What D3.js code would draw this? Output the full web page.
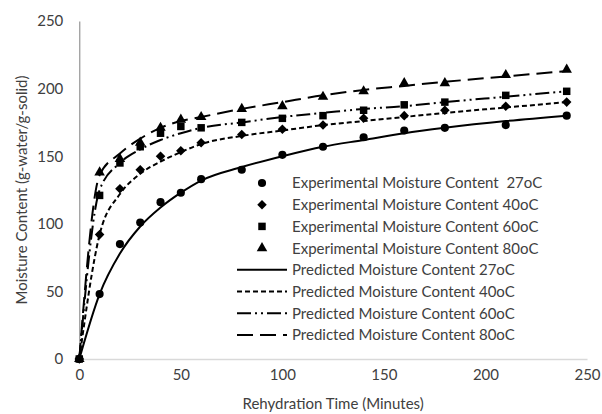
<!DOCTYPE html>
<html>
<head>
<meta charset="utf-8">
<script src="https://cdn.jsdelivr.net/npm/d3@7"></script>
<style>
  body { margin: 0; background: #fff; }
  svg { display: block; font-family: Lato, "Open Sans", sans-serif; }
  text { white-space: pre; }
</style>
</head>
<body>
<svg id="chart" width="602" height="414"></svg>
<script>
// rehydration time (minutes)
const times = [0, 10, 20, 30, 40, 50, 60, 80, 100, 120, 140, 160, 180, 210, 240];

// experimental moisture content (g-water/g-solid)
const exp27 = [0, 48, 85, 101, 116, 123, 133, 140, 151, 157, 164, 169, 171, 173, 180];
const exp40 = [0, 92, 126, 140, 150, 154, 160, 166, 170, 173, 178, 180, 184, 187, 190];
const exp60 = [0, 121, 145, 157, 167, 172, 171, 175, 178, 180, 184, 188, 190, 195, 198];
const exp80 = [0, 138, 148, 160, 171, 177, 179, 185, 187, 194, 198, 204, 204, 210, 214];

// predicted moisture content
const pred27 = [0, 48, 78, 98, 112, 123, 132, 142, 150, 157, 162, 167, 171, 176, 180];
const pred40 = [0, 92, 122, 137, 146, 153, 159, 165, 169, 173, 176, 179, 182, 186, 190];
const pred60 = [0, 125, 145, 155, 162, 167, 171, 175, 179, 182, 185, 187, 190, 194, 198];
const pred80 = [0, 136, 152, 163, 171, 176, 179, 185, 190, 195, 199, 202, 205, 209, 213];

const xTicks = [0, 50, 100, 150, 200, 250];
const yTicks = [0, 50, 100, 150, 200, 250];

const svg = d3.select("#chart");
const textColor = "#404040";
const fontSize = "15px";

const x = d3.scaleLinear().domain([0, 250]).range([79.3, 587]);
const y = d3.scaleLinear().domain([0, 250]).range([359, 21]);

// axes
const xAxis = svg.append("g")
  .attr("transform", `translate(0,${y(0)})`)
  .call(d3.axisBottom(x).tickValues(xTicks).tickSize(0).tickPadding(10));
xAxis.select(".domain").attr("stroke", "#d9d9d9").attr("stroke-width", 1.5);

const yAxis = svg.append("g")
  .attr("transform", `translate(${x(0)},0)`)
  .call(d3.axisLeft(y).tickValues(yTicks).tickSize(0).tickPadding(16));
yAxis.select(".domain").attr("stroke", "#7f7f7f").attr("stroke-width", 1);

svg.selectAll(".tick text")
  .attr("fill", textColor)
  .style("font-size", fontSize)
  .style("font-family", "Lato, sans-serif");

svg.append("text")
  .attr("x", (x.range()[0] + x.range()[1]) / 2)
  .attr("y", 409)
  .attr("text-anchor", "middle")
  .attr("fill", textColor)
  .style("font-size", fontSize)
  .text("Rehydration Time (Minutes)");

svg.append("text")
  .attr("transform", `translate(27,${(y.range()[0] + y.range()[1]) / 2}) rotate(-90)`)
  .attr("text-anchor", "middle")
  .attr("fill", textColor)
  .style("font-size", fontSize)
  .text("Moisture Content (g-water/g-solid)");

// series definitions
const predicted = [
  { name: "Predicted Moisture Content 27oC", values: pred27, dash: null },
  { name: "Predicted Moisture Content 40oC", values: pred40, dash: "5,3" },
  { name: "Predicted Moisture Content 60oC", values: pred60, dash: "14,4,2,4,2,4" },
  { name: "Predicted Moisture Content 80oC", values: pred80, dash: "16,7" },
];
const experimental = [
  { name: "Experimental Moisture Content  27oC", values: exp27, symbol: d3.symbolCircle, size: 52 },
  { name: "Experimental Moisture Content 40oC", values: exp40, symbol: d3.symbolDiamond2, size: 58 },
  { name: "Experimental Moisture Content 60oC", values: exp60, symbol: d3.symbolSquare, size: 56 },
  { name: "Experimental Moisture Content 80oC", values: exp80, symbol: d3.symbolTriangle, size: 48 },
];

const line = d3.line()
  .x((d, i) => x(times[i]))
  .y(d => y(d))
  .curve(d3.curveMonotoneX);

svg.append("g").selectAll("path")
  .data(predicted)
  .join("path")
  .attr("d", d => line(d.values))
  .attr("fill", "none")
  .attr("stroke", "#000")
  .attr("stroke-width", 2)
  .attr("stroke-dasharray", d => d.dash);

experimental.forEach(s => {
  svg.append("g").selectAll("path")
    .data(s.values)
    .join("path")
    .attr("transform", (d, i) => `translate(${x(times[i])},${y(d)})`)
    .attr("d", d3.symbol().type(s.symbol).size(s.size))
    .attr("fill", "#000");
});

// legend
const legend = svg.append("g");
const rowY = i => 183 + i * 21.7;
const legendItems = experimental.map(s => ({ ...s, kind: "marker" }))
  .concat(predicted.map(s => ({ ...s, kind: "line" })));

legendItems.forEach((item, i) => {
  const g = legend.append("g").attr("transform", `translate(0,${rowY(i)})`);
  if (item.kind === "marker") {
    g.append("path")
      .attr("transform", "translate(262,0)")
      .attr("d", d3.symbol().type(item.symbol).size(item.size))
      .attr("fill", "#000");
  } else {
    g.append("line")
      .attr("x1", 237).attr("x2", 287)
      .attr("stroke", "#000")
      .attr("stroke-width", 2)
      .attr("stroke-dasharray", item.dash);
  }
  g.append("text")
    .attr("x", 292)
    .attr("dy", "0.36em")
    .attr("fill", textColor)
    .style("font-size", fontSize)
    .text(item.name);
});
</script>
</body>
</html>
